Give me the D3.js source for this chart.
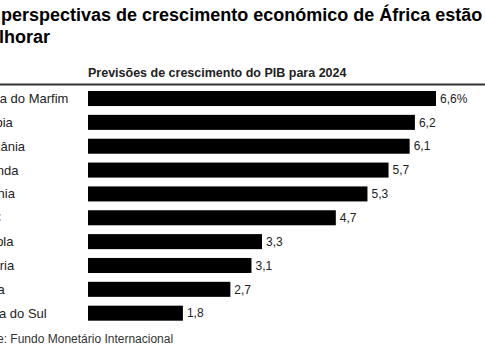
<!DOCTYPE html>
<meta charset="utf-8">
<style>
body { margin: 0; background: #fff; }
svg { display: block; font-family: "Liberation Sans", Arial, sans-serif; }
.title { font-weight: bold; font-size: 18px; fill: #000; }
.sub { font-weight: bold; font-size: 12.5px; fill: #222; }
.lab { font-size: 13px; fill: #222; }
.val { font-size: 12px; fill: #222; }
.src { font-size: 12px; fill: #333; }
</style>
<svg id="chart" width="485" height="360"></svg>
<script src="https://cdnjs.cloudflare.com/ajax/libs/d3/7.8.5/d3.min.js"></script>
<script>

var countries = ["Costa do Marfim", "Etiópia", "Tanzânia", "Uganda", "Quénia",
                 "RDC", "Angola", "Nigéria", "Gana", "África do Sul"];
var growth = [6.6, 6.2, 6.1, 5.7, 5.3, 4.7, 3.3, 3.1, 2.7, 1.8];
var titleLines = ["As perspectivas de crescimento económico de África estão a", "melhorar"];
var subtitle = "Previsões de crescimento do PIB para 2024";
var source = "Fonte: Fundo Monetário Internacional";

var svg = d3.select("svg"),
    shift = -27,   // the picture is cut on the left
    barLeft = 88;

var data = countries.map(function(c, i) { return {name: c, value: growth[i]}; });

var x = d3.scaleLinear().domain([0, 6.6]).range([barLeft, 436]);
var y = d3.scaleBand().domain(countries).range([91, 320.7]).paddingInner(0.37);

svg.selectAll(".title")
    .data(titleLines)
  .enter().append("text")
    .attr("class", "title")
    .attr("x", -27)
    .attr("y", function(d, i) { return 20.5 + i * 22; })
    .text(function(d) { return d; });

svg.append("text")
    .attr("class", "sub")
    .attr("x", barLeft)
    .attr("y", 77)
    .text(subtitle);

svg.append("line")
    .attr("x1", 0).attr("x2", 485)
    .attr("y1", 84.5).attr("y2", 84.5)
    .attr("stroke", "#333")
    .attr("stroke-width", 1.8);

var row = svg.selectAll(".row")
    .data(data)
  .enter().append("g")
    .attr("class", "row");

row.append("rect")
    .attr("x", x(0))
    .attr("y", function(d) { return y(d.name); })
    .attr("width", function(d) { return x(d.value) - x(0); })
    .attr("height", y.bandwidth())
    .attr("fill", "#000");

row.append("text")
    .attr("class", "lab")
    .attr("x", shift)
    .attr("y", function(d) { return y(d.name) + y.bandwidth() / 2; })
    .attr("dy", "0.35em")
    .text(function(d) { return d.name; });

row.append("text")
    .attr("class", "val")
    .attr("x", function(d) { return x(d.value) + 4; })
    .attr("y", function(d) { return y(d.name) + y.bandwidth() / 2; })
    .attr("dy", "0.35em")
    .text(function(d, i) {
      var s = d3.format(".1f")(d.value).replace(".", ",");
      return i === 0 ? s + "%" : s;
    });

svg.append("text")
    .attr("class", "src")
    .attr("x", shift)
    .attr("y", 343)
    .text(source);

</script>
